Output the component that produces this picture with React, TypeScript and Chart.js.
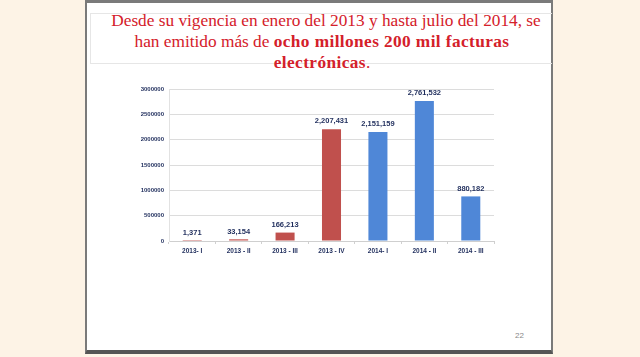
import React, { useEffect, useRef } from "react";
import { Chart, registerables } from "chart.js";

Chart.register(...registerables);

const categories = ["2013- I", "2013 - II", "2013 - III", "2013 - IV", "2014- I", "2014 - II", "2014 - III"];
const values = [1371, 33154, 166213, 2207431, 2151159, 2761532, 880182];
const barColors = ["#c0504d", "#c0504d", "#c0504d", "#c0504d", "#4f87d7", "#4f87d7", "#4f87d7"];
const yTicks = [0, 500000, 1000000, 1500000, 2000000, 2500000, 3000000];

const navy = "#1f2d5c";

const labelPlugin = {
  id: "barLabels",
  afterDatasetsDraw(chart: any) {
    const ctx = chart.ctx;
    const meta = chart.getDatasetMeta(0);
    ctx.save();
    ctx.font = "bold 7.5px 'Liberation Sans', Arial, sans-serif";
    ctx.fillStyle = navy;
    ctx.textAlign = "center";
    ctx.textBaseline = "bottom";
    meta.data.forEach((bar: any, i: number) => {
      const v = values[i];
      ctx.fillText(v.toLocaleString("en-US"), bar.x, bar.y - 4);
    });
    ctx.restore();
  },
};

function BarChart() {
  const ref = useRef<HTMLCanvasElement>(null);
  useEffect(() => {
    const chart = new Chart(ref.current!, {
      type: "bar",
      data: {
        labels: categories,
        datasets: [
          {
            data: values,
            backgroundColor: barColors,
            barPercentage: 0.82,
            categoryPercentage: 0.5,
          },
        ],
      },
      options: {
        animation: false,
        responsive: false,
        maintainAspectRatio: false,
        layout: { padding: { top: 14, right: 16, left: 0, bottom: 0 } },
        plugins: { legend: { display: false }, tooltip: { enabled: false } },
        scales: {
          x: {
            grid: { drawOnChartArea: false, drawTicks: true, tickLength: 3, color: "#d0d0d0", offset: true },
            border: { display: true, color: "#cfcfcf" },
            ticks: {
              color: navy,
              font: { family: "'Liberation Sans', Arial, sans-serif", size: 6.5, weight: "bold" },
              padding: 3,
              maxRotation: 0,
              autoSkip: false,
            },
            afterFit(scale: any) {
              scale.height = 24;
            },
          },
          y: {
            min: 0,
            max: 3000000,
            afterBuildTicks(scale: any) {
              scale.ticks = yTicks.map((v) => ({ value: v }));
            },
            grid: { color: "#dcdcdc", drawTicks: false },
            border: { display: true, color: "#e2e2e2" },
            ticks: {
              color: navy,
              font: { family: "'Liberation Sans', Arial, sans-serif", size: 6, weight: "bold" },
              padding: 5,
              callback: (v: any) => String(v),
            },
            afterFit(scale: any) {
              scale.width = 39;
            },
          },
        },
      },
      plugins: [labelPlugin],
    });
    return () => chart.destroy();
  }, []);
  return <canvas ref={ref} width={380} height={190} style={{ position: "absolute", left: 130, top: 75, width: 380, height: 190 }} />;
}

const boldStyle: React.CSSProperties = {
  fontWeight: "bold",
  letterSpacing: "0.4px",
};

export default function App() {
  return (
    <div style={{ position: "fixed", left: 0, top: 0, width: 640, height: 357, background: "#fdf3e6", overflow: "hidden" }}>
      <div
        style={{
          position: "absolute",
          left: 85,
          top: 0,
          width: 468,
          height: 354,
          background: "#ffffff",
          borderLeft: "2px solid #7a7a7a",
          borderRight: "2px solid #7a7a7a",
          borderTop: "3px solid #7a7a7a",
          borderBottom: "4px solid #555",
          boxSizing: "border-box",
        }}
      />
      <div
        style={{
          position: "absolute",
          left: 90,
          top: 13,
          width: 462,
          height: 51,
          border: "1px solid #e6e6e6",
          borderRight: "none",
          boxSizing: "border-box",
        }}
      />
      <div
        style={{
          position: "absolute",
          left: 100,
          top: 10,
          width: 452,
          textAlign: "center",
          fontFamily: "'Liberation Serif', 'Times New Roman', serif",
          fontSize: 17.3,
          lineHeight: "21px",
          color: "#d4202a",
        }}
      >
        Desde su vigencia en enero del 2013 y hasta julio del 2014, se
        <br />
        <span style={{ position: "relative", left: -4 }}>
          han emitido más de <span style={boldStyle}>ocho millones 200 mil facturas</span>
        </span>
        <br />
        <span style={{ position: "relative", left: -4 }}>
          <span style={boldStyle}>electrónicas</span>.
        </span>
      </div>
      <BarChart />
      <div
        style={{
          position: "absolute",
          left: 515,
          top: 331,
          fontFamily: "'Liberation Sans', Arial, sans-serif",
          fontSize: 8,
          color: "#888",
        }}
      >
        22
      </div>
    </div>
  );
}
